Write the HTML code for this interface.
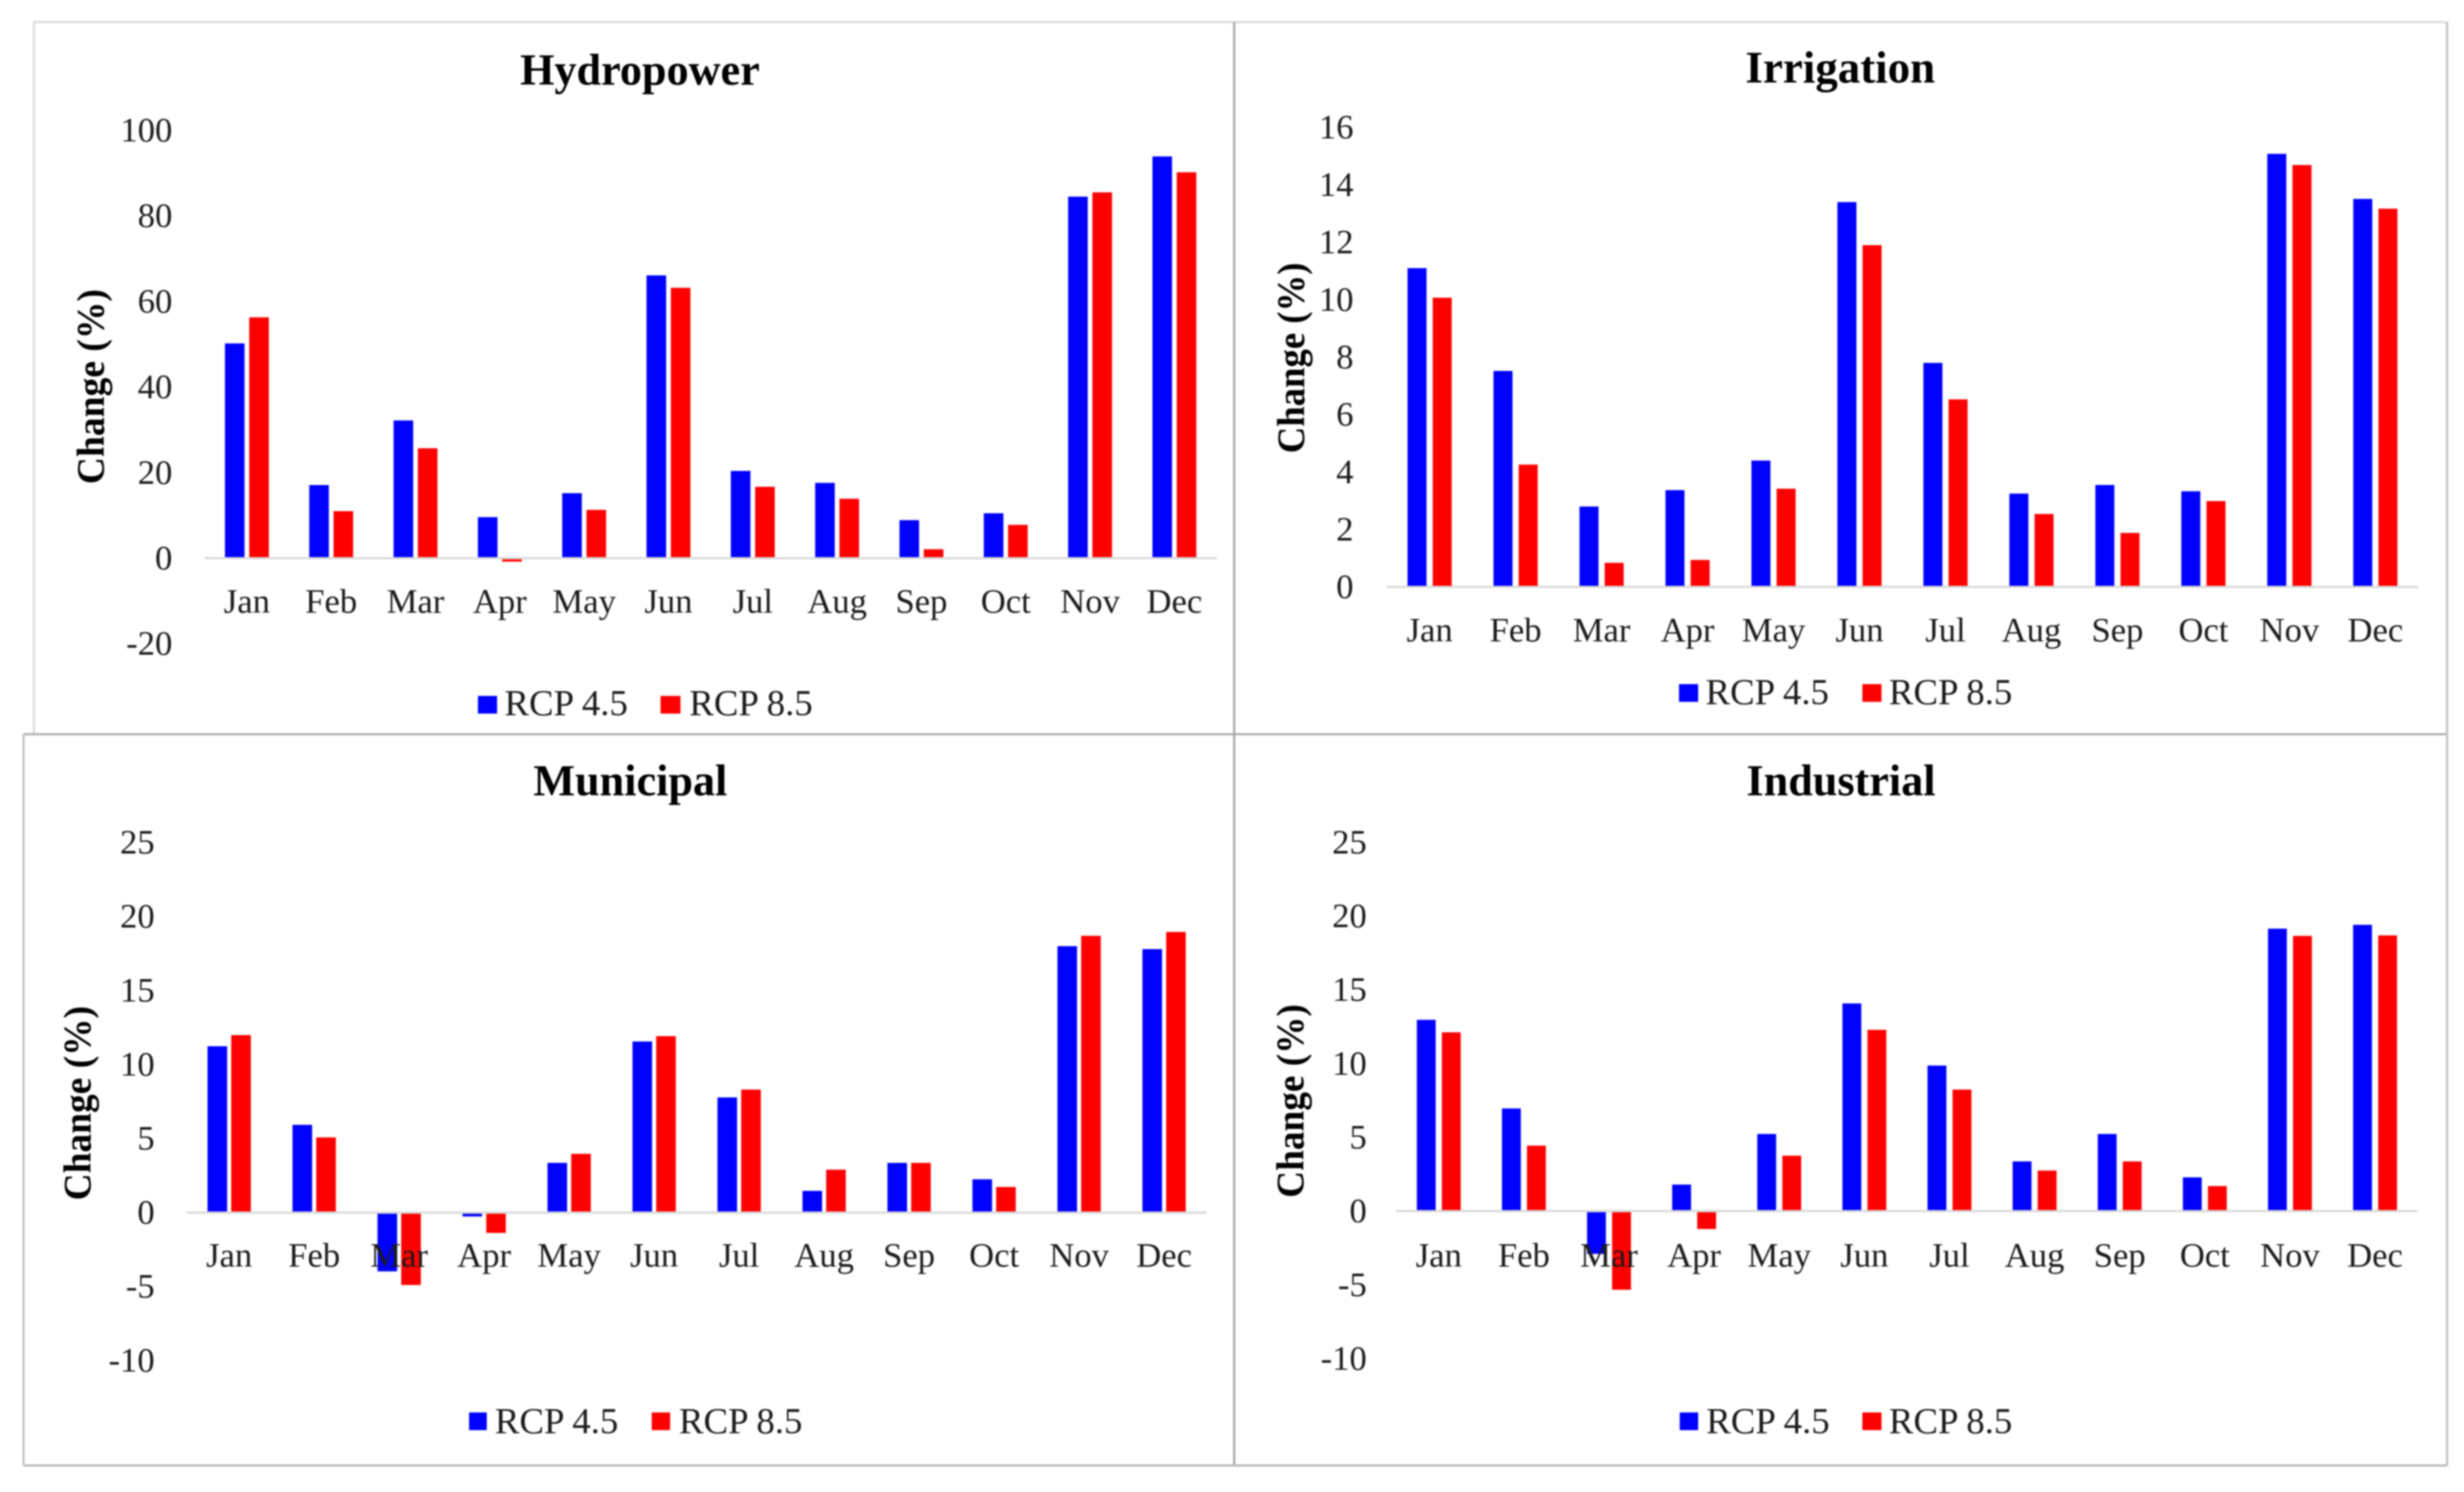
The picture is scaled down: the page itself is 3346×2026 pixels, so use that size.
<!DOCTYPE html>
<html lang="en">
<head>
<meta charset="utf-8">
<title>Change (%) by month for four water uses under RCP 4.5 and RCP 8.5</title>
<style>
html,body{margin:0;padding:0;background:#fff;}
body{width:3346px;height:2026px;overflow:hidden;}
svg{display:block;filter:blur(1px);}
text{font-family:"Liberation Serif","Times New Roman",serif;fill:#1a1a1a;}
.title{font-size:60px;font-weight:bold;fill:#000;text-anchor:middle;}
.ytitle{font-size:53px;font-weight:bold;fill:#000;text-anchor:middle;}
.tick{font-size:47px;text-anchor:end;dominant-baseline:central;}
.cat{font-size:47px;text-anchor:middle;}
.leg{font-size:50px;}
</style>
</head>
<body>
<svg id="figure" xmlns="http://www.w3.org/2000/svg" width="3346" height="2026" viewBox="0 0 3346 2026">
  <rect x="0" y="0" width="3346" height="2026" fill="#ffffff"/>

  <g fill="none">
    <line x1="46" y1="30" x2="3323" y2="30" stroke="#dcdcdc" stroke-width="3"/>
    <line x1="46" y1="30" x2="46" y2="997" stroke="#dcdcdc" stroke-width="3"/>
    <line x1="32" y1="997" x2="32" y2="1990" stroke="#c4c4c4" stroke-width="3"/>
    <line x1="32" y1="997" x2="3323" y2="997" stroke="#b0b0b0" stroke-width="3"/>
    <line x1="1676" y1="30" x2="1676" y2="1990" stroke="#a8a8a8" stroke-width="3"/>
    <line x1="3323" y1="30" x2="3323" y2="1990" stroke="#c4c4c4" stroke-width="3"/>
    <line x1="32" y1="1990" x2="3323" y2="1990" stroke="#b8b8b8" stroke-width="3"/>
  </g>

  <g id="hydropower">
    <text class="title" x="869" y="115">Hydropower</text>
    <text class="ytitle" transform="translate(141 525) rotate(-90)" textLength="265" lengthAdjust="spacingAndGlyphs">Change (%)</text>
    <g class="plot"></g>
    <rect x="649" y="945" width="26" height="24" fill="#0000ff"/>
    <text class="leg" x="685" y="971">RCP 4.5</text>
    <rect x="897" y="945" width="27" height="24" fill="#ff0000"/>
    <text class="leg" x="936" y="971">RCP 8.5</text>
  </g>

  <g id="irrigation">
    <text class="title" x="2499" y="112" style="font-size:61px">Irrigation</text>
    <text class="ytitle" transform="translate(1771 486) rotate(-90)" textLength="259" lengthAdjust="spacingAndGlyphs">Change (%)</text>
    <g class="plot"></g>
    <rect x="2280" y="929" width="26" height="24" fill="#0000ff"/>
    <text class="leg" x="2316" y="956">RCP 4.5</text>
    <rect x="2529" y="929" width="26" height="24" fill="#ff0000"/>
    <text class="leg" x="2565" y="956">RCP 8.5</text>
  </g>

  <g id="municipal">
    <text class="title" x="856" y="1080">Municipal</text>
    <text class="ytitle" transform="translate(123 1498) rotate(-90)" textLength="264" lengthAdjust="spacingAndGlyphs">Change (%)</text>
    <g class="plot"></g>
    <rect x="637" y="1918" width="24" height="24" fill="#0000ff"/>
    <text class="leg" x="672" y="1946">RCP 4.5</text>
    <rect x="885" y="1918" width="25" height="24" fill="#ff0000"/>
    <text class="leg" x="922" y="1946">RCP 8.5</text>
  </g>

  <g id="industrial">
    <text class="title" x="2500" y="1080">Industrial</text>
    <text class="ytitle" transform="translate(1770 1495) rotate(-90)" textLength="263" lengthAdjust="spacingAndGlyphs">Change (%)</text>
    <g class="plot"></g>
    <rect x="2281" y="1918" width="25" height="24" fill="#0000ff"/>
    <text class="leg" x="2317" y="1946">RCP 4.5</text>
    <rect x="2529" y="1918" width="26" height="24" fill="#ff0000"/>
    <text class="leg" x="2565" y="1946">RCP 8.5</text>
  </g>
</svg>

<script>
// ---- chart data ----
const months = ["Jan","Feb","Mar","Apr","May","Jun","Jul","Aug","Sep","Oct","Nov","Dec"];

const hydropowerRcp45 = [50.2,17.1,32.2,9.6,15.2,66.1,20.4,17.6,8.9,10.5,84.5,93.9];
const hydropowerRcp85 = [56.3,11.0,25.7,-0.8,11.3,63.2,16.7,13.9,2.1,7.8,85.5,90.2];
const hydropowerTicks = [-20,0,20,40,60,80,100];

const irrigationRcp45 = [11.1,7.52,2.8,3.37,4.4,13.4,7.8,3.25,3.55,3.33,15.08,13.51];
const irrigationRcp85 = [10.07,4.26,0.84,0.94,3.42,11.9,6.53,2.54,1.88,2.99,14.69,13.17];
const irrigationTicks = [0,2,4,6,8,10,12,14,16];

const municipalRcp45 = [11.24,5.93,-3.97,-0.26,3.36,11.56,7.78,1.47,3.36,2.25,18.0,17.8];
const municipalRcp85 = [11.99,5.08,-4.89,-1.37,3.97,11.92,8.31,2.9,3.36,1.73,18.7,18.96];
const municipalTicks = [-10,-5,0,5,10,15,20,25];

const industrialRcp45 = [12.97,6.96,-2.9,1.8,5.23,14.08,9.87,3.37,5.23,2.29,19.15,19.41];
const industrialRcp85 = [12.12,4.44,-5.33,-1.21,3.76,12.29,8.24,2.75,3.37,1.7,18.66,18.69];
const industrialTicks = [-10,-5,0,5,10,15,20,25];

const SVG_NS = "http://www.w3.org/2000/svg";

function drawPanel(id, blue, red, ticks, frame) {
  const plot = document.querySelector("#" + id + " .plot");
  const band = (frame.x1 - frame.x0) / months.length;
  const xCenter = function (i) { return frame.x0 + band * (i + 0.5); };
  const yPos = function (v) { return frame.zeroY - v * frame.pxPerUnit; };

  // bars
  months.forEach(function (month, i) {
    [[blue[i], "#0000ff", "rcp45", -1], [red[i], "#ff0000", "rcp85", 1]].forEach(function (s) {
      const top = Math.min(yPos(s[0]), yPos(0));
      const h = Math.abs(yPos(s[0]) - yPos(0));
      const left = s[3] < 0 ? xCenter(i) - frame.gap / 2 - frame.barW : xCenter(i) + frame.gap / 2;
      const r = document.createElementNS(SVG_NS, "rect");
      r.setAttribute("x", left);
      r.setAttribute("y", top);
      r.setAttribute("width", frame.barW);
      r.setAttribute("height", h);
      r.setAttribute("fill", s[1]);
      
      
      r.setAttribute("data-series", s[2]);
      r.setAttribute("data-month", month);
      plot.appendChild(r);
    });
  });

  // zero axis line
  const axis = document.createElementNS(SVG_NS, "line");
  axis.setAttribute("x1", frame.x0);
  axis.setAttribute("x2", frame.x1);
  axis.setAttribute("y1", yPos(0));
  axis.setAttribute("y2", yPos(0));
  axis.setAttribute("stroke", "#d9d9d9");
  axis.setAttribute("stroke-width", "3");
  
  
  plot.appendChild(axis);

  // y tick labels
  ticks.forEach(function (t) {
    const label = document.createElementNS(SVG_NS, "text");
    label.setAttribute("class", "tick");
    label.setAttribute("x", frame.tickRight);
    label.setAttribute("y", yPos(t));
    label.textContent = String(t);
    
    
    plot.appendChild(label);
  });

  // month labels
  months.forEach(function (month, i) {
    const label = document.createElementNS(SVG_NS, "text");
    label.setAttribute("class", "cat");
    label.setAttribute("x", xCenter(i));
    label.setAttribute("y", frame.catBaseline);
    label.textContent = month;
    
    
    plot.appendChild(label);
  });
}

drawPanel("hydropower", hydropowerRcp45, hydropowerRcp85, hydropowerTicks,
  {x0: 278, x1: 1652, zeroY: 758, pxPerUnit: 5.81, barW: 26.6, gap: 6.4, tickRight: 234, catBaseline: 832});
drawPanel("irrigation", irrigationRcp45, irrigationRcp85, irrigationTicks,
  {x0: 1883, x1: 3284, zeroY: 797, pxPerUnit: 39.0, barW: 25.8, gap: 8.4, tickRight: 1838, catBaseline: 871});
drawPanel("municipal", municipalRcp45, municipalRcp85, municipalTicks,
  {x0: 253.5, x1: 1638.5, zeroY: 1646.6, pxPerUnit: 20.1, barW: 26.6, gap: 5.6, tickRight: 210, catBaseline: 1720});
drawPanel("industrial", industrialRcp45, industrialRcp85, industrialTicks,
  {x0: 1896, x1: 3283, zeroY: 1644.6, pxPerUnit: 20.03, barW: 25.6, gap: 8.4, tickRight: 1856, catBaseline: 1720});
</script>
</body>
</html>
